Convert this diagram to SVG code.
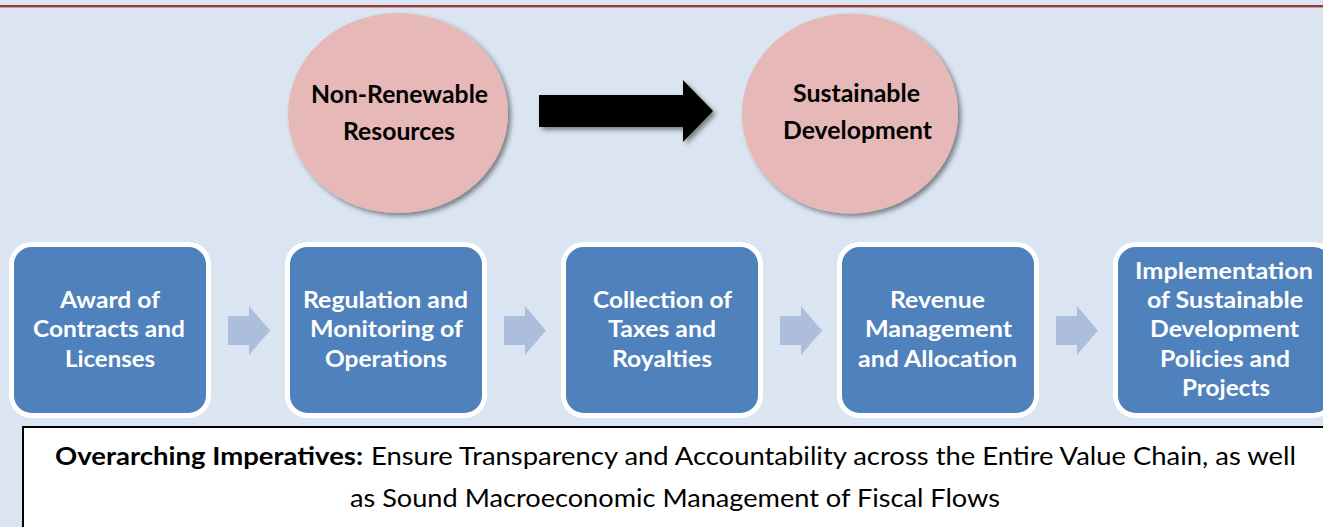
<svg xmlns="http://www.w3.org/2000/svg" width="1323" height="527" viewBox="0 0 1323 527">
  <defs>
    <filter id="shadow" x="-20%" y="-20%" width="140%" height="140%">
      <feDropShadow dx="3" dy="3" stdDeviation="2.5" flood-color="#000" flood-opacity="0.45"/>
    </filter>
    <style>
      .circle { fill: #E6B8B7; filter: url(#shadow); }
      .ctext { font-family: Lato, "Liberation Sans", sans-serif; font-weight: bold; font-size: 24px; fill: #000; text-anchor: middle; }
      .box { fill: #4F81BD; stroke: #FFFFFF; stroke-width: 5; }
      .btext { font-family: Lato, "Liberation Sans", sans-serif; font-weight: bold; font-size: 22px; fill: #FFFFFF; text-anchor: middle; }
      .step { fill: #ACBEDC; }
      .foot { font-family: Lato, "Liberation Sans", sans-serif; font-size: 25px; fill: #000; }
    </style>
  </defs>

  <rect x="0" y="0" width="1323" height="527" fill="#DBE5F1"/>
  <rect x="0" y="5" width="1323" height="2.4" fill="#953735"/>

  <g id="connectors">
    <path d="M539,95 L683,95 L683,80 L713,111 L683,142 L683,127 L539,127 Z" fill="#000" filter="url(#shadow)"/>
    <path class="step" d="M228,316 L249,316 L249,306 L270,330.5 L249,355 L249,345 L228,345 Z"/>
    <path class="step" d="M504,316 L525,316 L525,306 L546,330.5 L525,355 L525,345 L504,345 Z"/>
    <path class="step" d="M780,316 L801,316 L801,306 L822,330.5 L801,355 L801,345 L780,345 Z"/>
    <path class="step" d="M1056,316 L1077,316 L1077,306 L1098,330.5 L1077,355 L1077,345 L1056,345 Z"/>
  </g>

  <g id="node-nonrenewable">
    <ellipse class="circle" cx="398" cy="113" rx="110" ry="100"/>
    <text class="ctext" x="399.5" y="103" textLength="177" lengthAdjust="spacingAndGlyphs">Non-Renewable</text>
    <text class="ctext" x="399" y="140" textLength="112" lengthAdjust="spacingAndGlyphs">Resources</text>
  </g>

  <g id="node-sustainable">
    <ellipse class="circle" cx="850" cy="113.5" rx="108" ry="100"/>
    <text class="ctext" x="856.5" y="102" textLength="127" lengthAdjust="spacingAndGlyphs">Sustainable</text>
    <text class="ctext" x="857.5" y="139" textLength="149" lengthAdjust="spacingAndGlyphs">Development</text>
  </g>

  <g id="node-award">
    <rect class="box" x="11.5" y="244.5" width="197" height="171" rx="20"/>
    <text class="btext" x="110" y="308" textLength="100" lengthAdjust="spacingAndGlyphs">Award of</text>
    <text class="btext" x="109" y="337" textLength="152" lengthAdjust="spacingAndGlyphs">Contracts and</text>
    <text class="btext" x="110" y="367" textLength="90" lengthAdjust="spacingAndGlyphs">Licenses</text>
  </g>

  <g id="node-regulation">
    <rect class="box" x="287.5" y="244.5" width="197" height="171" rx="20"/>
    <text class="btext" x="385.5" y="308" textLength="165" lengthAdjust="spacingAndGlyphs">Regulation and</text>
    <text class="btext" x="386.5" y="337" textLength="153" lengthAdjust="spacingAndGlyphs">Monitoring of</text>
    <text class="btext" x="386" y="367" textLength="122" lengthAdjust="spacingAndGlyphs">Operations</text>
  </g>

  <g id="node-collection">
    <rect class="box" x="563.5" y="244.5" width="197" height="171" rx="20"/>
    <text class="btext" x="662.5" y="308" textLength="139" lengthAdjust="spacingAndGlyphs">Collection of</text>
    <text class="btext" x="662" y="337" textLength="108" lengthAdjust="spacingAndGlyphs">Taxes and</text>
    <text class="btext" x="662" y="367" textLength="100" lengthAdjust="spacingAndGlyphs">Royalties</text>
  </g>

  <g id="node-revenue">
    <rect class="box" x="839.5" y="244.5" width="197" height="171" rx="20"/>
    <text class="btext" x="937.5" y="308" textLength="95" lengthAdjust="spacingAndGlyphs">Revenue</text>
    <text class="btext" x="938.5" y="337" textLength="147" lengthAdjust="spacingAndGlyphs">Management</text>
    <text class="btext" x="937.5" y="367" textLength="159" lengthAdjust="spacingAndGlyphs">and Allocation</text>
  </g>

  <g id="node-implementation">
    <rect class="box" x="1115.5" y="244.5" width="218" height="171" rx="20"/>
    <text class="btext" x="1224" y="279" textLength="178" lengthAdjust="spacingAndGlyphs">Implementation</text>
    <text class="btext" x="1225" y="308" textLength="156" lengthAdjust="spacingAndGlyphs">of Sustainable</text>
    <text class="btext" x="1224.5" y="337" textLength="149" lengthAdjust="spacingAndGlyphs">Development</text>
    <text class="btext" x="1225" y="367" textLength="130" lengthAdjust="spacingAndGlyphs">Policies and</text>
    <text class="btext" x="1226" y="396" textLength="88" lengthAdjust="spacingAndGlyphs">Projects</text>
  </g>

  <g id="node-imperatives">
    <rect x="23" y="427" width="1320" height="120" fill="#FFFFFF" stroke="#000" stroke-width="2"/>
    <text class="foot" x="55" y="465" font-weight="bold" textLength="308" lengthAdjust="spacingAndGlyphs">Overarching Imperatives:</text>
    <text class="foot" x="371" y="465" textLength="925" lengthAdjust="spacingAndGlyphs">Ensure Transparency and Accountability across the Entire Value Chain, as well</text>
    <text class="foot" x="350" y="507" textLength="650" lengthAdjust="spacingAndGlyphs">as Sound Macroeconomic Management of Fiscal Flows</text>
  </g>
</svg>
